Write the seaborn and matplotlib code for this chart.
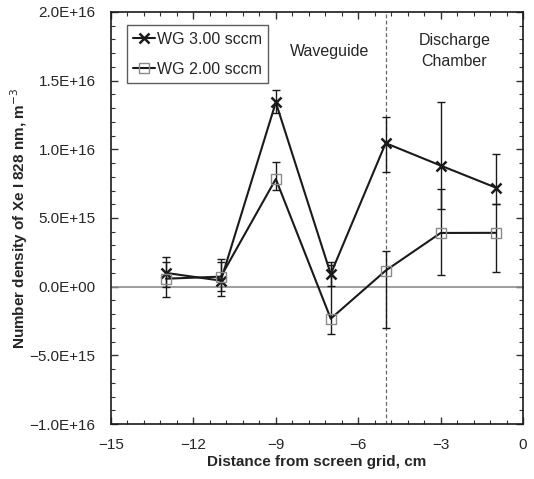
import numpy as np
import pandas as pd
import matplotlib
matplotlib.use("Agg")
import matplotlib.pyplot as plt
import seaborn as sns
from matplotlib.ticker import MultipleLocator, FuncFormatter

# ---- data ----
distance = [-13, -11, -9, -7, -5, -3, -1]
wg3_density = [1.00e15, 0.44e15, 1.342e16, 0.92e15, 1.045e16, 0.882e16, 0.722e16]
wg3_err_low = [1.0e15, 1.15e15, 0.75e15, 0.85e15, 2.1e15, 3.13e15, 1.21e15]
wg3_err_high = [1.16e15, 1.56e15, 0.93e15, 0.85e15, 1.9e15, 4.64e15, 2.47e15]
wg2_density = [0.58e15, 0.73e15, 0.784e16, -2.33e15, 1.17e15, 0.391e16, 0.392e16]
wg2_err_low = [1.33e15, 1.07e15, 0.78e15, 1.14e15, 4.21e15, 3.09e15, 2.85e15]
wg2_err_high = [1.22e15, 1.04e15, 1.24e15, 3.88e15, 1.40e15, 3.20e15, 2.10e15]
series_labels = ["WG 3.00 sccm", "WG 2.00 sccm"]

sns.set_style("ticks")
plt.rcParams['font.family'] = ['Liberation Sans', 'DejaVu Sans']

fig = plt.figure(figsize=(5.34, 4.79), dpi=100)
ax = fig.add_axes([0.2079, 0.1148, 0.9794 - 0.2079, 0.975 - 0.1148])

df3 = pd.DataFrame({"x": distance, "y": wg3_density})
df2 = pd.DataFrame({"x": distance, "y": wg2_density})

ax.axhline(0, color="#8c8c8c", lw=1.2, zorder=1)
ax.axvline(-5, color="#666666", lw=0.9, ls=(0, (3, 2)), zorder=1)

ax.errorbar(distance, wg3_density, yerr=[wg3_err_low, wg3_err_high], fmt="none",
            ecolor="#1a1a1a", elinewidth=1.0, capsize=3, capthick=1.0, zorder=2)
ax.errorbar(distance, wg2_density, yerr=[wg2_err_low, wg2_err_high], fmt="none",
            ecolor="#1a1a1a", elinewidth=1.0, capsize=3, capthick=1.0, zorder=2)

sns.lineplot(data=df3, x="x", y="y", ax=ax, color="#1a1a1a", lw=1.5,
             marker="x", markersize=6.5, markeredgewidth=1.8, markeredgecolor="#1a1a1a",
             label=series_labels[0], zorder=3)
sns.lineplot(data=df2, x="x", y="y", ax=ax, color="#1a1a1a", lw=1.5,
             marker="s", markersize=7, markerfacecolor="none", markeredgewidth=1.0,
             markeredgecolor="#8a8a8a", label=series_labels[1], zorder=3)

ax.set_xlim(-15, 0)
ax.set_ylim(-1e16, 2e16)
ax.xaxis.set_major_locator(MultipleLocator(3))
ax.xaxis.set_minor_locator(MultipleLocator(0.6))
ax.yaxis.set_major_locator(MultipleLocator(5e15))
ax.yaxis.set_minor_locator(MultipleLocator(1e15))

def yfmt(v, pos):
    s = f"{abs(v):.1E}"
    return ("\u2212" if v < -1 else "") + s

def xfmt(v, pos):
    return ("\u2212" if v < 0 else "") + f"{abs(v):g}"

ax.yaxis.set_major_formatter(FuncFormatter(yfmt))
ax.xaxis.set_major_formatter(FuncFormatter(xfmt))

ax.tick_params(which="both", direction="in", top=True, right=True, color="#333333")
ax.tick_params(which="major", length=5, width=1.0, labelsize=11)
ax.tick_params(axis="y", which="major", pad=11)
ax.tick_params(axis="x", which="major", pad=10)
ax.tick_params(which="minor", length=3, width=0.8)
for sp in ax.spines.values():
    sp.set_linewidth(1.2)
    sp.set_color("#1a1a1a")

ax.set_xlabel("Distance from screen grid, cm", fontsize=11, fontweight="bold", labelpad=2)
ax.set_ylabel("Number density of Xe I 828 nm, m$^{-3}$", fontsize=11, fontweight="bold")
ax.yaxis.set_label_coords(-0.196, 0.5)

ax.text(-7.04, 1.71e16, "Waveguide", fontsize=11.5, ha="center", va="center")
ax.text(-2.5, 1.715e16, "Discharge\nChamber", fontsize=11.5, ha="center", va="center",
        linespacing=1.45)

leg = ax.legend(loc="upper left", bbox_to_anchor=(0.038, 0.968), borderaxespad=0,
                fontsize=11.5, frameon=True, fancybox=False, edgecolor="#333333",
                handlelength=1.4, handletextpad=0.1, borderpad=0.4, labelspacing=0.95)
leg.get_frame().set_linewidth(1.0)

fig.savefig("out.png", dpi=100)
